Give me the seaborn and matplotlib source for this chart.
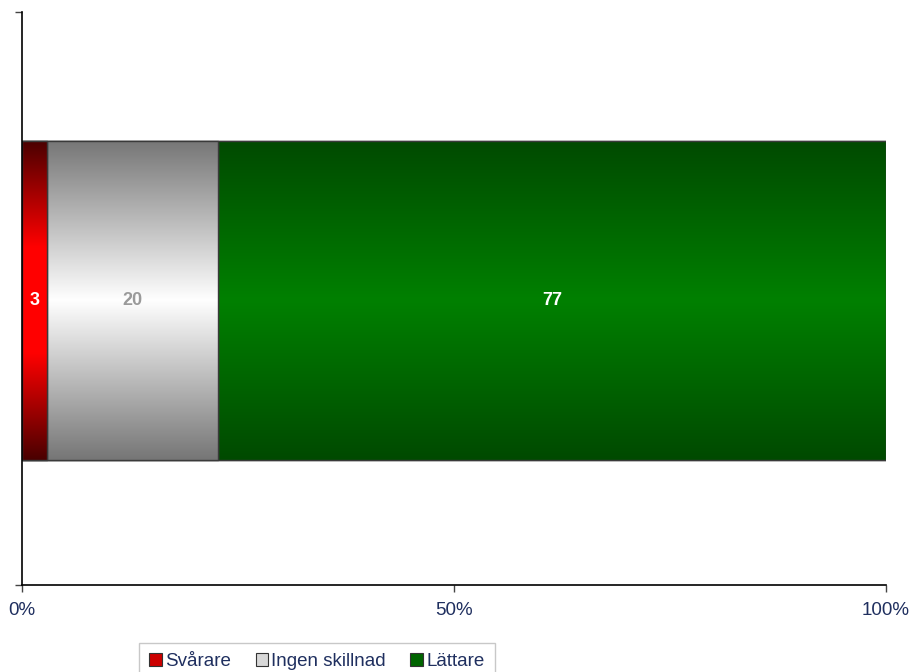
import numpy as np
import pandas as pd
import matplotlib
matplotlib.use("Agg")
import matplotlib.pyplot as plt
import seaborn as sns
from matplotlib.colors import LinearSegmentedColormap
from matplotlib.patches import Patch

# data (shares in %; labels show rounded values)
categories = ["Svårare", "Ingen skillnad", "Lättare"]
values = [2.9, 19.8, 77.3]
row_label = [""]

edge_cols = ["#4a0000", "#767676", "#004a00"]
mid_cols = ["#ff0000", "#ffffff", "#008000"]
legend_cols = ["#cc0000", "#d8d8d8", "#006400"]
text_cols = ["white", "#9a9a9a", "white"]

sns.set_style("white")
plt.rcParams["font.family"] = ["Liberation Sans", "DejaVu Sans"]

fig = plt.figure(figsize=(9.12, 6.72), dpi=100)
ax = fig.add_axes([22 / 912, 1 - 585 / 672, 864 / 912, 573 / 672])

# stacked bars: draw cumulative totals, largest first
cum = np.cumsum(values)
df = pd.DataFrame({"row": row_label * len(values), "cum": cum, "cat": categories})
bars = []
for i in reversed(range(len(values))):
    sns.barplot(data=df.iloc[[i]], x="cum", y="row", orient="h", width=0.557,
                color=mid_cols[i], edgecolor="#3a3a3a", linewidth=1.0, ax=ax)
    bars.append((i, ax.patches[-1]))

# vertical gradient fill clipped to every segment
grad = np.linspace(0, 1, 256).reshape(-1, 1)
for i, p in bars:
    if i == 0:
        stops = [edge_cols[i], mid_cols[i], mid_cols[i], edge_cols[i]]
    else:
        stops = [edge_cols[i], mid_cols[i], edge_cols[i]]
    cmap = LinearSegmentedColormap.from_list("g%d" % i, stops)
    x0 = cum[i] - values[i]
    y0, h = p.get_y(), p.get_height()
    im = ax.imshow(grad, cmap=cmap, aspect="auto", extent=[x0, cum[i], y0 + h, y0],
                   zorder=p.get_zorder() + 0.1 + (len(values) - i) * 0.01, interpolation="bicubic")
    im.set_clip_path(p)
    edge = plt.Rectangle((x0, y0), values[i], h, fill=False, edgecolor="#3a3a3a", lw=1.0,
                         zorder=im.get_zorder() + 0.001)
    ax.add_patch(edge)
    ax.text(x0 + values[i] / 2, 0, "%d" % round(values[i]), ha="center", va="center",
            color=text_cols[i], fontsize=13, fontweight="bold", zorder=10)

ax.set_xlim(0, 100)
ax.set_ylim(0.4965, -0.5035)
ax.set_xticks([0, 50, 100])
ax.set_xticklabels(["0%", "50%", "100%"])
ax.set_yticks([0.4965, -0.5035])
ax.set_yticklabels(["", ""])
ax.set_xlabel("")
ax.set_ylabel("")
ax.tick_params(axis="both", direction="out", length=5, width=1, color="#444444",
               labelcolor="#1f2f5f", labelsize=13.5, pad=7, left=True, bottom=True)
for s in ["top", "right"]:
    ax.spines[s].set_visible(False)
for s in ["left", "bottom"]:
    ax.spines[s].set_color("black")
    ax.spines[s].set_linewidth(1.2)

handles = [Patch(facecolor=legend_cols[i], edgecolor="#333333", lw=0.8, label=categories[i])
           for i in range(len(categories))]
leg = fig.legend(handles=handles, loc="upper center", bbox_to_anchor=(317 / 912, 1 - 643 / 672),
                 ncol=3, frameon=True, fancybox=False, fontsize=13.5, handlelength=0.65,
                 handleheight=0.65, handletextpad=0.2, columnspacing=1.3, borderpad=0.55,
                 borderaxespad=0.0)
leg.get_frame().set_edgecolor("#bbbbbb")
leg.get_frame().set_linewidth(1.0)
for t in leg.get_texts():
    t.set_color("#1f2f5f")

fig.savefig("out.png", dpi=100)
